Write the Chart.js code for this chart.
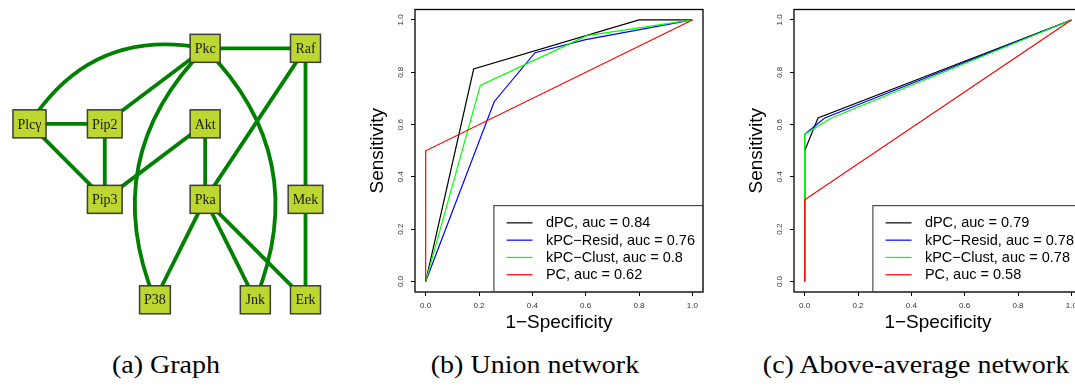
<!DOCTYPE html>
<html>
<head>
<meta charset="utf-8">
<script src="https://cdn.jsdelivr.net/npm/chart.js@4.4.1/dist/chart.umd.min.js"></script>
<style>
  html, body { margin: 0; padding: 0; background: #fff; overflow: hidden; width: 1075px; height: 388px; }
  canvas { position: absolute; top: 0; }
  #graph-chart { left: 0; }
  #union-chart { left: 360px; }
  #above-chart { left: 739px; }
  .caption {
    position: absolute; top: 351px; white-space: nowrap;
    font-family: "Liberation Serif", "Times New Roman", serif; font-size: 25px; color: #000;
    transform: translateX(-50%) scaleX(1.12);
  }
</style>
</head>
<body>
<canvas id="graph-chart" width="360" height="330"></canvas>
<canvas id="union-chart" width="360" height="340"></canvas>
<canvas id="above-chart" width="360" height="340"></canvas>
<div class="caption" style="left:166px">(a) Graph</div>
<div class="caption" style="left:535px">(b) Union network</div>
<div class="caption" style="left:916px">(c) Above-average network</div>

<script>
// ---- panel (a): graph layout (column / row of each node) ----
const nodeNames = ['Plcγ', 'Pip2', 'Pip3', 'Pkc', 'Akt', 'Pka', 'P38', 'Jnk', 'Raf', 'Mek', 'Erk'];
const nodeCol = [0.25, 1, 1, 2, 2, 2, 1.5, 2.5, 3, 3, 3];
const nodeRow = [1, 1, 2, 0, 1, 2, 3.33, 3.33, 0, 2, 3.33];
const edgeFrom = ['Pkc', 'Pkc', 'Pkc', 'Pkc', 'Pkc', 'Raf', 'Raf', 'Plcγ', 'Plcγ', 'Pip2', 'Akt', 'Akt', 'Pka', 'Pka', 'Pka', 'Mek'];
const edgeTo = ['Raf', 'Plcγ', 'Pip2', 'P38', 'Jnk', 'Pka', 'Mek', 'Pip2', 'Pip3', 'Pip3', 'Pip3', 'Pka', 'P38', 'Jnk', 'Erk', 'Erk'];
const edgeBend = [0, 0.34, 0, 0.33, -0.33, 0, 0, 0, 0, 0, 0, 0, 0, 0, 0, 0];

// ---- panels (b), (c): ROC curves ----
const methodNames = ['dPC', 'kPC−Resid', 'kPC−Clust', 'PC'];
const methodColors = ['#000000', '#0000FF', '#00FF00', '#FF0000'];
const axisTicks = [0, 0.2, 0.4, 0.6, 0.8, 1.0];

const unionAuc = [0.84, 0.76, 0.8, 0.62];
const unionDpcFpr = [0, 0.18, 0.8, 1];
const unionDpcTpr = [0, 0.8125, 1, 1];
const unionResidFpr = [0, 0.257, 0.41, 0.6, 1];
const unionResidTpr = [0, 0.6875, 0.875, 0.925, 1];
const unionClustFpr = [0, 0.205, 0.605, 1];
const unionClustTpr = [0, 0.75, 0.94, 1];
const unionPcFpr = [0, 0, 1];
const unionPcTpr = [0, 0.5, 1];

const aboveAuc = [0.79, 0.78, 0.78, 0.58];
const aboveDpcFpr = [0, 0, 0.05, 1];
const aboveDpcTpr = [0, 0.5, 0.625, 1];
const aboveResidFpr = [0, 0, 0.075, 1];
const aboveResidTpr = [0, 0.5625, 0.625, 1];
const aboveClustFpr = [0, 0, 0.1, 1];
const aboveClustTpr = [0, 0.5625, 0.625, 1];
const abovePcFpr = [0, 0, 1];
const abovePcTpr = [0, 0.3125, 1];

const sansFamily = '"Liberation Sans", Arial, Helvetica, sans-serif';
const serifFamily = '"Liberation Serif", "Times New Roman", serif';
Chart.defaults.color = '#000';

// --- graph: edges under the nodes, boxes + labels on top ---
const graphDrawing = {
  id: 'graphDrawing',
  beforeDatasetsDraw(chart) {
    const { ctx } = chart;
    const pts = chart.getDatasetMeta(0).data;
    const pos = (name) => pts[nodeNames.indexOf(name)];
    ctx.save();
    ctx.strokeStyle = '#008000';
    ctx.lineWidth = 3.8;
    edgeFrom.forEach((from, k) => {
      const a = pos(from);
      const b = pos(edgeTo[k]);
      const bend = edgeBend[k];
      ctx.beginPath();
      ctx.moveTo(a.x, a.y);
      if (bend) {
        const cx = (a.x + b.x) / 2 - bend * (b.y - a.y);
        const cy = (a.y + b.y) / 2 + bend * (b.x - a.x);
        ctx.quadraticCurveTo(cx, cy, b.x, b.y);
      } else {
        ctx.lineTo(b.x, b.y);
      }
      ctx.stroke();
    });
    ctx.restore();
  },
  afterDatasetsDraw(chart) {
    const { ctx } = chart;
    const pts = chart.getDatasetMeta(0).data;
    ctx.save();
    ctx.font = `14px ${serifFamily}`;
    ctx.textAlign = 'center';
    ctx.textBaseline = 'middle';
    nodeNames.forEach((name, i) => {
      const p = pts[i];
      const w = Math.max(30, ctx.measureText(name).width + 9);
      const h = 28;
      ctx.fillStyle = '#BED630';
      ctx.fillRect(p.x - w / 2, p.y - h / 2, w, h);
      ctx.strokeStyle = '#3c3c3c';
      ctx.lineWidth = 1.5;
      ctx.strokeRect(p.x - w / 2, p.y - h / 2, w, h);
      ctx.fillStyle = '#1a1a1a';
      ctx.fillText(name, p.x, p.y + 1);
    });
    ctx.restore();
  },
};

new Chart(document.getElementById('graph-chart'), {
  type: 'scatter',
  data: {
    datasets: [{
      data: nodeNames.map((_, i) => ({ x: nodeCol[i], y: nodeRow[i] })),
      pointRadius: 0,
      pointHoverRadius: 0,
    }],
  },
  options: {
    responsive: false,
    animation: false,
    events: [],
    layout: { padding: 0 },
    plugins: { legend: { display: false }, tooltip: { enabled: false } },
    scales: {
      x: { display: false, min: -0.044, max: 3.543 },
      y: { display: false, reverse: true, min: -0.64, max: 3.73 },
    },
  },
  plugins: [graphDrawing],
});

// --- ROC panels ---
const plotBox = {
  id: 'plotBox',
  afterDraw(chart) {
    const { ctx, chartArea: a } = chart;
    ctx.save();
    ctx.strokeStyle = '#000';
    ctx.lineWidth = 1.3;
    ctx.strokeRect(a.left, a.top, a.right - a.left, a.bottom - a.top);
    ctx.restore();
  },
};

const rocLegend = {
  id: 'rocLegend',
  afterDraw(chart) {
    const { ctx, chartArea } = chart;
    const items = chart.data.datasets;
    ctx.save();
    ctx.font = `14.5px ${sansFamily}`;
    const textW = Math.max(...items.map((d) => ctx.measureText(d.label).width));
    const rowH = 17.3;
    const pad = 8.6;
    const w = 52 + textW + 8;
    const h = items.length * rowH + 2 * pad;
    const left = chartArea.right - w;
    const top = chartArea.bottom - h;
    ctx.strokeStyle = '#4a4a4a';
    ctx.lineWidth = 1.2;
    ctx.strokeRect(left, top, w, h);
    items.forEach((d, i) => {
      const yy = top + pad + rowH * (i + 0.5);
      ctx.strokeStyle = d.borderColor;
      ctx.lineWidth = 1.2;
      ctx.beginPath();
      ctx.moveTo(left + 12.7, yy);
      ctx.lineTo(left + 38.7, yy);
      ctx.stroke();
      ctx.fillStyle = '#000';
      ctx.textBaseline = 'middle';
      ctx.fillText(d.label, left + 52, yy + 0.5);
    });
    ctx.restore();
  },
};

function makeRocChart(canvasId, auc, fprs, tprs) {
  const datasets = methodNames.map((name, i) => ({
    label: `${name}, auc = ${auc[i]}`,
    data: fprs[i].map((x, j) => ({ x, y: tprs[i][j] })),
    borderColor: methodColors[i],
    borderWidth: 1.2,
    showLine: true,
    pointRadius: 0,
    pointHoverRadius: 0,
    tension: 0,
    order: methodNames.length - i,
  }));
  const tickFont = { family: sansFamily, size: 8 };
  const titleFont = { family: sansFamily, size: 19, lineHeight: 1.2 };
  new Chart(document.getElementById(canvasId), {
    type: 'scatter',
    data: { datasets },
    options: {
      responsive: false,
      animation: false,
      events: [],
      layout: { padding: { top: 5, right: 17, left: 0, bottom: 0 } },
      plugins: { legend: { display: false }, tooltip: { enabled: false } },
      scales: {
        x: {
          type: 'linear',
          min: -0.04,
          max: 1.04,
          afterBuildTicks: (s) => { s.ticks = axisTicks.map((v) => ({ value: v })); },
          afterFit: (s) => { s.height = 48; },
          grid: { drawOnChartArea: false, tickLength: 4, color: '#000', lineWidth: 1 },
          border: { display: false },
          ticks: {
            font: tickFont, color: '#333', padding: 5, autoSkip: false,
            minRotation: 0, maxRotation: 0,
            callback: (v) => Number(v).toFixed(1),
          },
          title: { display: true, text: '1−Specificity', font: titleFont, color: '#000', padding: { top: 0, bottom: 5.6 } },
        },
        y: {
          type: 'linear',
          min: -0.04,
          max: 1.04,
          afterBuildTicks: (s) => { s.ticks = axisTicks.map((v) => ({ value: v })); },
          afterFit: (s) => { s.width = 55; },
          grid: { drawOnChartArea: false, tickLength: 4, color: '#000', lineWidth: 1 },
          border: { display: false },
          ticks: {
            font: tickFont, color: '#333', padding: 4.7, autoSkip: false,
            minRotation: 90, maxRotation: 90, crossAlign: 'center',
            callback: (v) => Number(v).toFixed(1),
          },
          title: { display: true, text: 'Sensitivity', font: titleFont, color: '#000', padding: { top: 6.6, bottom: 0 } },
        },
      },
    },
    plugins: [plotBox, rocLegend],
  });
}

makeRocChart('union-chart', unionAuc,
  [unionDpcFpr, unionResidFpr, unionClustFpr, unionPcFpr],
  [unionDpcTpr, unionResidTpr, unionClustTpr, unionPcTpr]);

makeRocChart('above-chart', aboveAuc,
  [aboveDpcFpr, aboveResidFpr, aboveClustFpr, abovePcFpr],
  [aboveDpcTpr, aboveResidTpr, aboveClustTpr, abovePcTpr]);
</script>
</body>
</html>
